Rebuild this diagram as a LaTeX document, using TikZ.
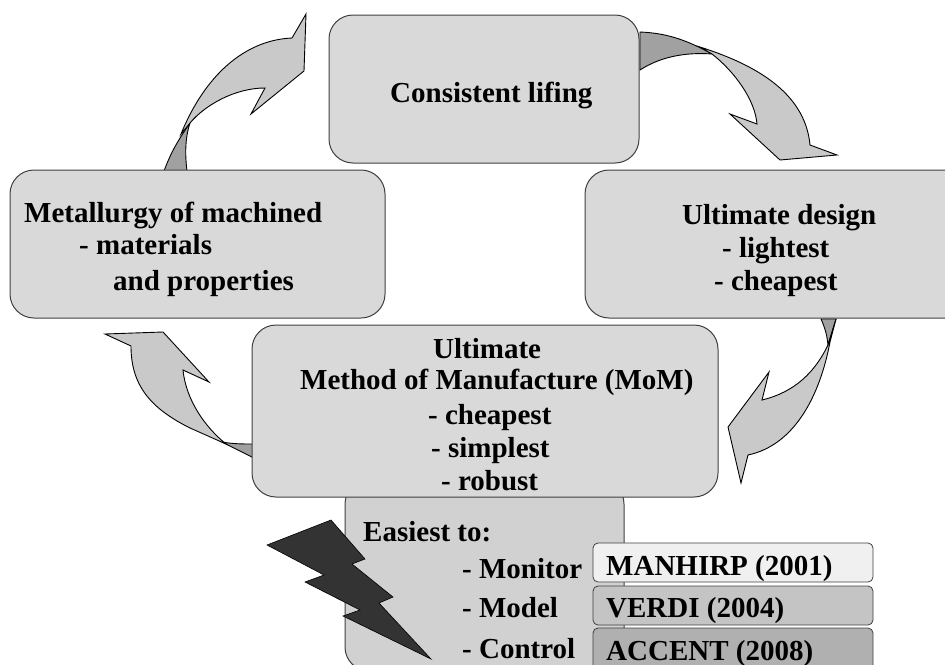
\documentclass[tikz,border=0pt]{standalone}
\usepackage{fontspec}
\setmainfont{Liberation Serif}
\definecolor{arrowlight}{gray}{0.79}
\definecolor{arrowdark}{gray}{0.63}
\definecolor{panelfill}{gray}{0.85}
\definecolor{lowerfill}{gray}{0.82}
\tikzset{
 panel/.style={draw=black!75,line width=1pt,rounded corners=24pt,inner sep=0pt,outer sep=0pt,fill=panelfill},
 tag/.style={draw=black!75,line width=0.8pt,rounded corners=5pt,inner sep=0pt,outer sep=0pt,minimum width=280pt},
 lightarrow/.style={draw=black,line width=0.9pt,fill=arrowlight,line join=miter},
 darkarrow/.style={draw=black,line width=0.9pt,fill=arrowdark},
 lab/.style={anchor=base west,inner sep=0pt,font=\fontsize{29}{32}\selectfont\bfseries},
}
\begin{document}
\begin{tikzpicture}[x=1pt,y=-1pt]
\useasboundingbox (0,0) rectangle (945,664);
\clip (0,0) rectangle (945,664);
% arrows, behind the panels
\draw[darkarrow] (640,32) .. controls (665,33) and (685,39) .. (712,54) .. controls (685,52) and (660,57) .. (640,70) -- cycle;
\draw[lightarrow] (700,47) .. controls (750,63) and (805,90) .. (810,145) -- (837,155) -- (780,160) -- (730,114) -- (757,124) .. controls (755,100) and (735,72) .. (712,54) -- cycle;
\draw[darkarrow] (164,171) .. controls (170,155) and (176,143) .. (190,123) .. controls (185,138) and (185,155) .. (187,171) -- cycle;
\draw[lightarrow] (181,134) .. controls (205,75) and (245,40) .. (292,38) -- (306,14) -- (304,71) -- (251,114) -- (265,88) .. controls (235,88) and (205,105) .. (190,123) -- cycle;
\draw[darkarrow] (222,442) .. controls (233,444) and (243,444) .. (253,444) -- (253,457.5) -- cycle;
\draw[lightarrow] (105,334) -- (163,332) -- (209,382) -- (183,370) .. controls (186,400) and (205,427) .. (226,444) -- (190,428) .. controls (150,408) and (131,385) .. (131,346) -- cycle;
\draw[darkarrow] (821,319) -- (836,319) -- (828,345) .. controls (827,335) and (825,328) .. (821,319) -- cycle;
\draw[lightarrow] (836,319) -- (830,342) .. controls (820,395) and (795,445) .. (748,455) -- (741,483) -- (728,427) -- (769,372) -- (762,400) .. controls (795,392) and (815,372) .. (828,345) -- cycle;
% panels
\node[panel,fill=lowerfill,minimum width=279pt,minimum height=191pt] (lower) at (484.5,575.5) {};
\node[panel,minimum width=310pt,minimum height=148pt] (top) at (484,89) {};
\node[panel,minimum width=375pt,minimum height=148pt] (left) at (197.5,244) {};
\node[panel,minimum width=390pt,minimum height=148pt] (right) at (780,244) {};
\node[panel,minimum width=466pt,minimum height=172pt] (middle) at (485,411) {};
% bolt
\draw[fill=black!80,draw=black,line width=0.6pt] (331,520) -- (365,559) -- (352,564) -- (393,597) -- (379,603) -- (431,659) -- (343,616) -- (360,610) -- (305,582) -- (324,575) -- (267,545) -- cycle;
% tags
\node[tag,fill=black!6,minimum height=39pt] (tagA) at (733,562.5) {};
\node[tag,fill=black!23,minimum height=39pt] (tagB) at (733,605.5) {};
\node[tag,fill=black!31,minimum height=52pt] (tagC) at (733,654) {};
% text
\node[lab] (t1) at (390,102) {Consistent lifing};
\node[lab] (t2) at (24,222) {Metallurgy of machined};
\node[lab] (t3) at (79,254) {- materials};
\node[lab] (t4) at (113,290) {and properties};
\node[lab] (t5) at (682,224) {Ultimate design};
\node[lab] (t6) at (722,257) {- lightest};
\node[lab] (t7) at (714,290) {- cheapest};
\node[lab] (t8) at (433,358) {Ultimate};
\node[lab] (t9) at (300,389) {Method of Manufacture (MoM)};
\node[lab] (t10) at (428,424) {- cheapest};
\node[lab] (t11) at (431,457) {- simplest};
\node[lab] (t12) at (441,490) {- robust};
\node[lab] (t13) at (363,541) {Easiest to:};
\node[lab] (t14) at (462,578) {- Monitor};
\node[lab] (t15) at (462,617) {- Model};
\node[lab] (t16) at (462,658) {- Control};
\node[lab] (t17) at (606,575) {MANHIRP (2001)};
\node[lab] (t18) at (606,617) {VERDI (2004)};
\node[lab] (t19) at (606,660) {ACCENT (2008)};
\end{tikzpicture}
\end{document}
